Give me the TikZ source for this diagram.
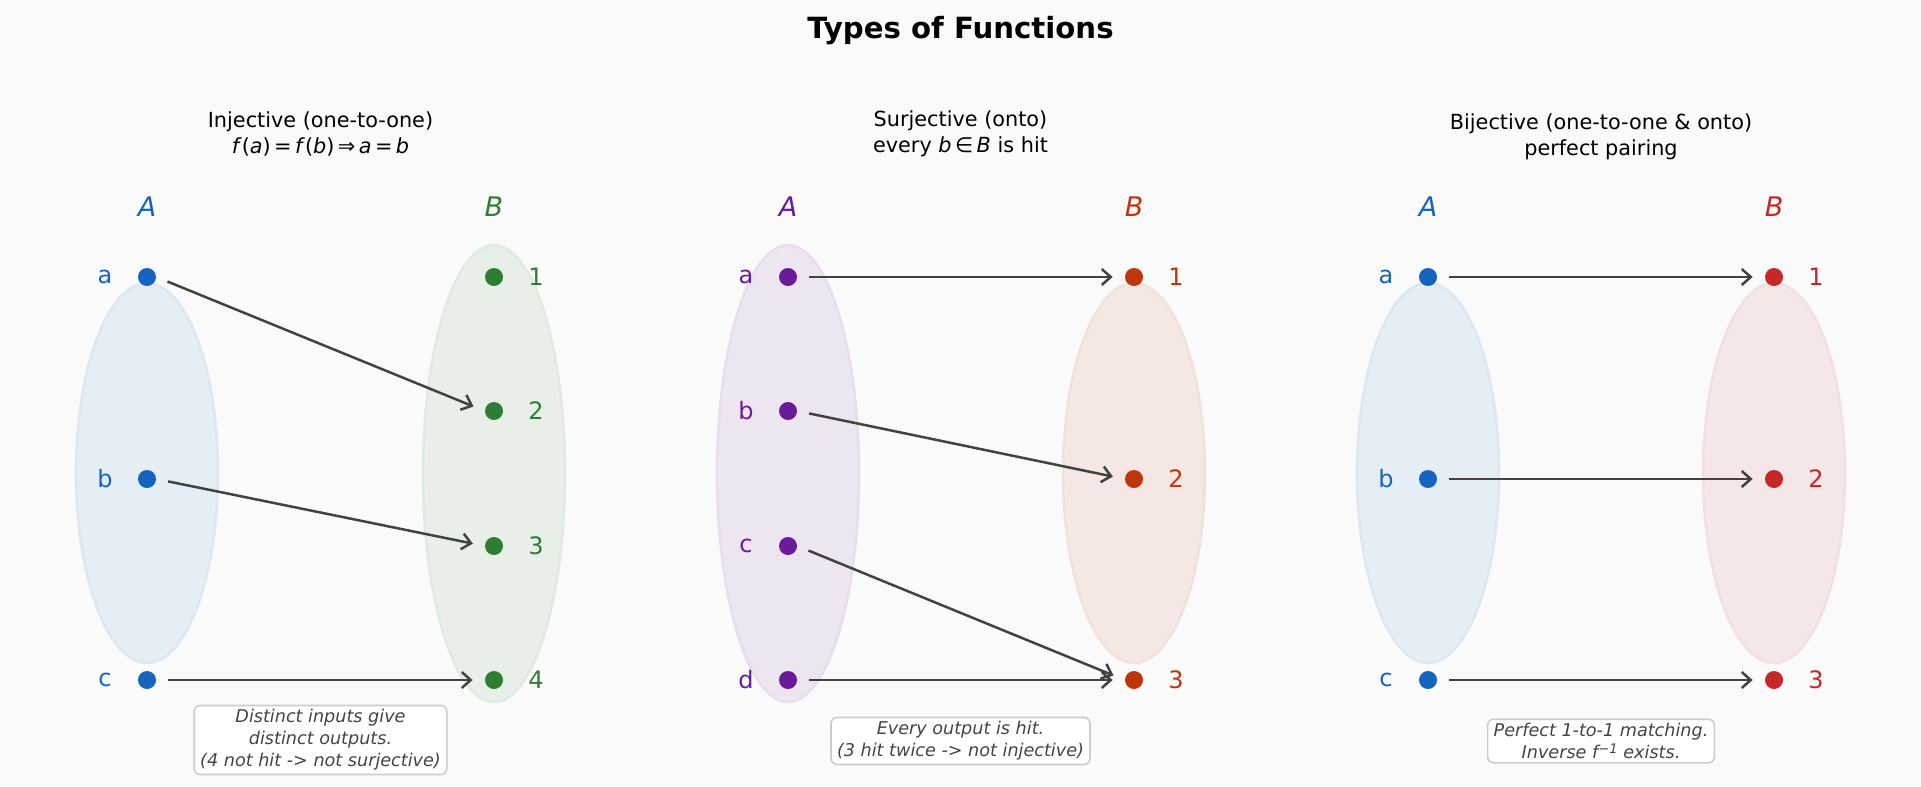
\documentclass[tikz,border=0pt]{standalone}
\usepackage{fontspec}
\setmainfont{DejaVu Sans}
\usetikzlibrary{arrows.meta}
\definecolor{bgcol}{HTML}{FAFAFA}
\definecolor{domblue}{HTML}{1565C0}
\definecolor{codgreen}{HTML}{2E7D32}
\definecolor{dompurple}{HTML}{6A1B9A}
\definecolor{codorange}{HTML}{BF360C}
\definecolor{codred}{HTML}{C62828}
\definecolor{arrowgray}{HTML}{424242}
\definecolor{captext}{HTML}{444444}
\definecolor{cardborder}{HTML}{CCCCCC}

\begin{document}
\begin{tikzpicture}[
    x=0.5bp, y=-0.5bp,
    dot/.style={circle, minimum size=9bp, inner sep=0pt},
    elemlbl/.style={font=\fontsize{12bp}{14bp}\selectfont},
    sethead/.style={font=\fontsize{13.5bp}{16bp}\selectfont\itshape},
    figtitle/.style={font=\fontsize{14.6bp}{17bp}\selectfont\bfseries},
    paneltitle/.style={font=\fontsize{10.4bp}{13bp}\selectfont, align=center},
    capbox/.style={draw=cardborder, fill=white, rounded corners=3bp,
                   line width=0.8bp, align=center, text=captext,
                   font=\fontsize{8.8bp}{11bp}\selectfont\itshape,
                   inner xsep=3bp, inner ysep=2bp},
    maparr/.style={-{Straight Barb[length=4.5bp, width=8bp]}, line width=1.25bp,
                   arrowgray, shorten <=6bp, shorten >=6bp},
    setell/.style={line width=1.2bp},
]

% ── background and page size ──
\fill[bgcol] (0,0) rectangle (1921,786);

% rows: three or four elements per set
\def\yone{277}
\def\ytwo{479}
\def\ythr{680}
\def\yfa{277}
\def\yfb{411}
\def\yfc{546}
\def\yfd{680}

% ── Element macro: #1 name, #2 x, #3 y, #4 colour, #5 text, #6 label shift ──
\newcommand{\elemdot}[6]{
    \node[dot, fill=#4] (#1) at (#2, #3) {};
    \node[elemlbl, text=#4] (#1-lbl) at (#2#6, #3) {#5};
}

\node[figtitle] (title) at (960.5, 31) {Types of Functions};

% ════════════════════════════════════════════════════════════
% LEFT: injective
% ════════════════════════════════════════════════════════════
\fill[domblue!9!bgcol, draw=domblue!13!bgcol, setell]
    (147, 473) ellipse [x radius=71, y radius=190];
\fill[codgreen!9!bgcol, draw=codgreen!13!bgcol, setell]
    (494, 473.5) ellipse [x radius=71, y radius=228.5];

\node[paneltitle] (inj-t) at (320.5, 134)
    {Injective (one-to-one)\\\textit{f}(\textit{a})\,=\,\textit{f}(\textit{b})\,⇒\,\textit{a}\,=\,\textit{b}};
\node[sethead, text=domblue] (inj-A) at (147, 207) {A};
\node[sethead, text=codgreen] (inj-B) at (494, 207) {B};

\elemdot{p1a}{147}{\yone}{domblue}{a}{-42}
\elemdot{p1b}{147}{\ytwo}{domblue}{b}{-42}
\elemdot{p1c}{147}{\ythr}{domblue}{c}{-42}
\elemdot{p1n1}{494}{\yfa}{codgreen}{1}{+42}
\elemdot{p1n2}{494}{\yfb}{codgreen}{2}{+42}
\elemdot{p1n3}{494}{\yfc}{codgreen}{3}{+42}
\elemdot{p1n4}{494}{\yfd}{codgreen}{4}{+42}

\draw[maparr] (p1a.east) -- (p1n2.west);
\draw[maparr] (p1b.east) -- (p1n3.west);
\draw[maparr] (p1c.east) -- (p1n4.west);

\node[capbox] (inj-note) at (320.5, 740)
    {Distinct inputs give\\distinct outputs.\\(4 not hit -> not surjective)};

% ════════════════════════════════════════════════════════════
% MIDDLE: surjective
% ════════════════════════════════════════════════════════════
\fill[dompurple!9!bgcol, draw=dompurple!13!bgcol, setell]
    (788, 473.5) ellipse [x radius=71, y radius=228.5];
\fill[codorange!9!bgcol, draw=codorange!13!bgcol, setell]
    (1134, 473) ellipse [x radius=71, y radius=190];

\node[paneltitle] (sur-t) at (960.5, 134)
    {Surjective (onto)\\every \textit{b}\,∈\,\textit{B} is hit};
\node[sethead, text=dompurple] (sur-A) at (788, 207) {A};
\node[sethead, text=codorange] (sur-B) at (1134, 207) {B};

\elemdot{p2a}{788}{\yfa}{dompurple}{a}{-42}
\elemdot{p2b}{788}{\yfb}{dompurple}{b}{-42}
\elemdot{p2c}{788}{\yfc}{dompurple}{c}{-42}
\elemdot{p2d}{788}{\yfd}{dompurple}{d}{-42}
\elemdot{p2n1}{1134}{\yone}{codorange}{1}{+42}
\elemdot{p2n2}{1134}{\ytwo}{codorange}{2}{+42}
\elemdot{p2n3}{1134}{\ythr}{codorange}{3}{+42}

\draw[maparr] (p2a.east) -- (p2n1.west);
\draw[maparr] (p2b.east) -- (p2n2.west);
\draw[maparr] (p2c.east) -- (p2n3.west);
\draw[maparr] (p2d.east) -- (p2n3.west);

\node[capbox] (sur-note) at (960.5, 741)
    {Every output is hit.\\(3 hit twice -> not injective)};

% ════════════════════════════════════════════════════════════
% RIGHT: bijective
% ════════════════════════════════════════════════════════════
\fill[domblue!9!bgcol, draw=domblue!13!bgcol, setell]
    (1428, 473) ellipse [x radius=71, y radius=190];
\fill[codred!9!bgcol, draw=codred!13!bgcol, setell]
    (1774, 473) ellipse [x radius=71, y radius=190];

\node[paneltitle] (bij-t) at (1601, 136.5)
    {Bijective (one-to-one \& onto)\\perfect pairing};
\node[sethead, text=domblue] (bij-A) at (1428, 207) {A};
\node[sethead, text=codred] (bij-B) at (1774, 207) {B};

\elemdot{p3a}{1428}{\yone}{domblue}{a}{-42}
\elemdot{p3b}{1428}{\ytwo}{domblue}{b}{-42}
\elemdot{p3c}{1428}{\ythr}{domblue}{c}{-42}
\elemdot{p3n1}{1774}{\yone}{codred}{1}{+42}
\elemdot{p3n2}{1774}{\ytwo}{codred}{2}{+42}
\elemdot{p3n3}{1774}{\ythr}{codred}{3}{+42}

\draw[maparr] (p3a.east) -- (p3n1.west);
\draw[maparr] (p3b.east) -- (p3n2.west);
\draw[maparr] (p3c.east) -- (p3n3.west);

\node[capbox] (bij-note) at (1601, 741)
    {Perfect 1-to-1 matching.\\Inverse \textit{f}\raisebox{0.55ex}{\fontsize{6.6bp}{7bp}\selectfont −1} exists.};

\end{tikzpicture}
\end{document}
